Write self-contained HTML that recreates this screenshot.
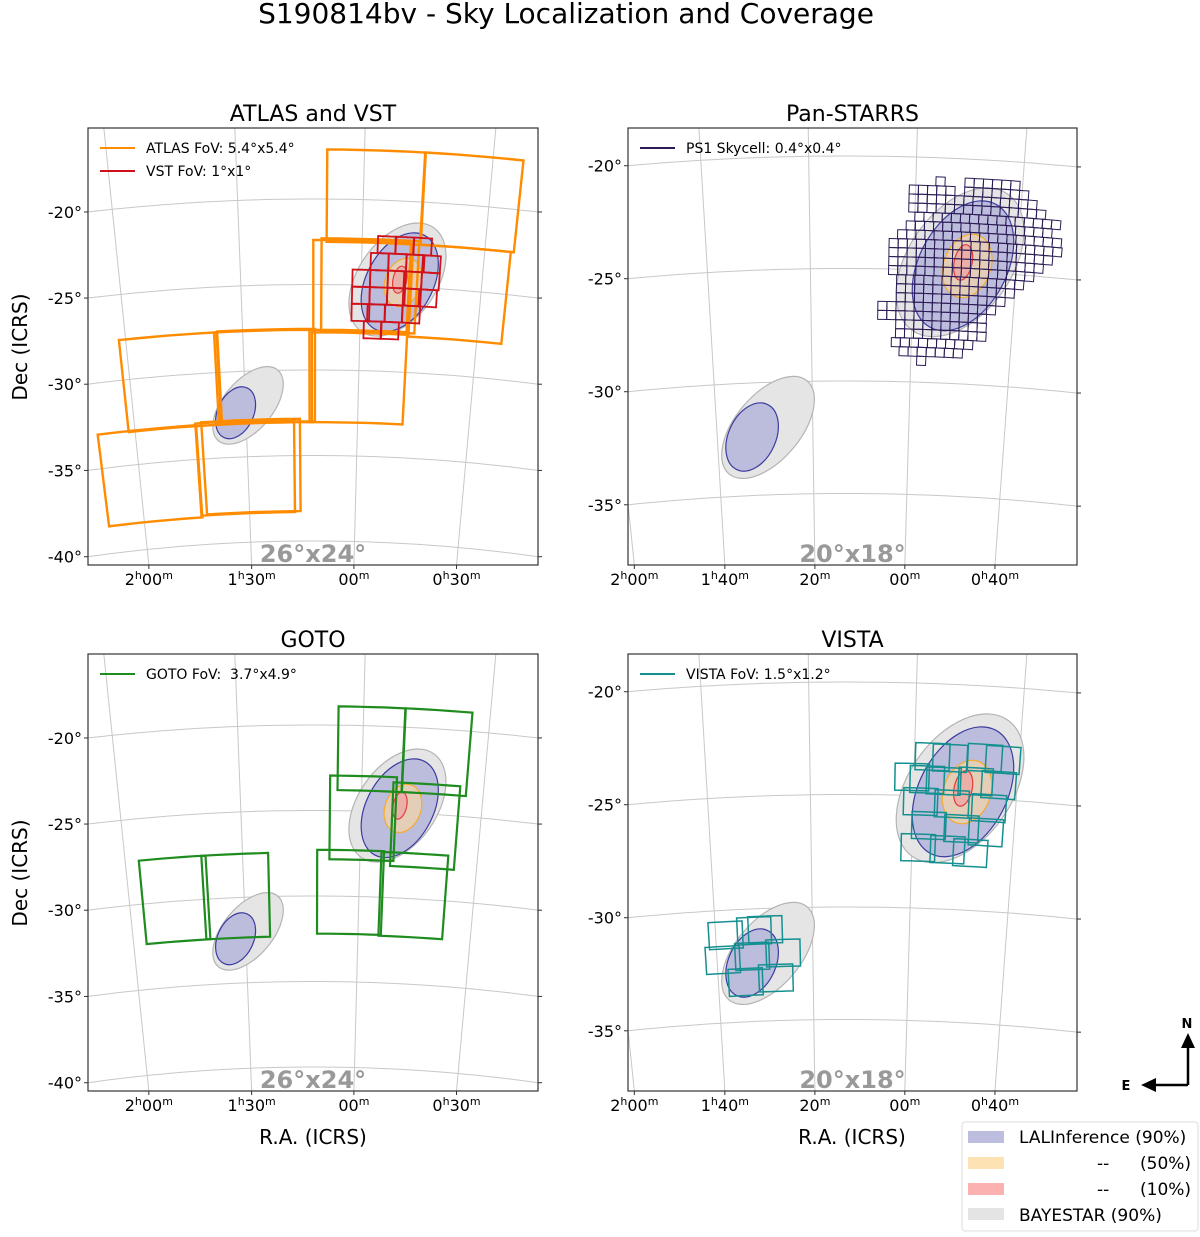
<!DOCTYPE html>
<html><head><meta charset="utf-8"><style>
html,body{margin:0;padding:0;background:#fff;width:1200px;height:1237px;overflow:hidden;}
svg{display:block;font-family:"DejaVu Sans","Liberation Sans",sans-serif;}
</style></head><body>
<svg id="fig" width="1200" height="1237" viewBox="0 0 1200 1237" xmlns="http://www.w3.org/2000/svg">
<text x="566" y="23" font-size="28" text-anchor="middle">S190814bv - Sky Localization and Coverage</text>
<text transform="translate(27,347) rotate(-90)" font-size="20" text-anchor="middle">Dec (ICRS)</text>
<text transform="translate(27,873) rotate(-90)" font-size="20" text-anchor="middle">Dec (ICRS)</text>
<text x="313" y="1144" font-size="20" text-anchor="middle">R.A. (ICRS)</text>
<text x="852" y="1144" font-size="20" text-anchor="middle">R.A. (ICRS)</text>
<g>
<line x1="1188" y1="1085" x2="1188" y2="1046" stroke="#000" stroke-width="2.5"/>
<polygon points="1188,1033 1181,1048 1195,1048" fill="#000"/>
<line x1="1188" y1="1085" x2="1154" y2="1085" stroke="#000" stroke-width="2.5"/>
<polygon points="1141,1085 1156,1078 1156,1092" fill="#000"/>
<text x="1187" y="1028" font-size="13" font-weight="bold" text-anchor="middle">N</text>
<text x="1126" y="1090" font-size="13" font-weight="bold" text-anchor="middle">E</text>
</g>
<g>
<rect x="962" y="1122" width="236" height="109" rx="3" fill="#fff" stroke="#ddd"/>
<rect x="968" y="1131" width="36" height="12" fill="#bdbde0"/>
<text x="1019" y="1143" font-size="17">LALInference (90%)</text>
<rect x="968" y="1157" width="36" height="12" fill="#fde3b4"/>
<text x="1097" y="1169" font-size="17">--</text>
<text x="1140" y="1169" font-size="17">(50%)</text>
<rect x="968" y="1183" width="36" height="12" fill="#fcb1b1"/>
<text x="1097" y="1195" font-size="17">--</text>
<text x="1140" y="1195" font-size="17">(10%)</text>
<rect x="968" y="1208" width="36" height="12" fill="#e4e4e4"/>
<text x="1019" y="1221" font-size="17">BAYESTAR (90%)</text>
</g>
</svg>
<script>
// ---- data (RA, Dec in degrees) ----
const blobNames = ['bayestar-main','lalinference-main','lal-50','lal-10','bayestar-second','lalinference-second'];
const blobCenters = [[12.75,-24.6],[12.6,-24.75],[12.4,-24.75],[12.6,-24.6],[22.33,-32.0],[23.18,-32.4]];
const blobAxes = [[3.7,2.3],[3.1,1.95],[1.45,1.05],[0.8,0.4],[2.7,1.45],[1.6,1.05]];
const blobAngles = [55,62,70,78,50,65];
const blobFills = ['#e5e5e5','#bcbcdc','#f7d6a8','#f0a3a0','#e5e5e5','#bcbcdc'];
const blobStrokes = ['#b4b4b4','#3c3ca0','#f2ac2e','#e03c3c','#b4b4b4','#3c3ca0'];

const atlasTiles = [[14.3,-19.8],[8.6,-19.8],[15.0,-25.1],[8.9,-25.2],[14.5,-25.0],[15.1,-30.35],[21.2,-30.35],[21.0,-30.3],[27.3,-30.35],[29.2,-35.7],[22.6,-35.6],[22.2,-35.55]];
const vstTiles = [[13.5,-22.6],[12.4,-22.6],[11.3,-22.6],
 [13.9,-23.6],[12.8,-23.6],[11.7,-23.6],[10.7,-23.6],
 [15.0,-24.6],[13.9,-24.6],[12.8,-24.6],[11.8,-24.6],[10.7,-24.6],
 [15.0,-25.6],[13.9,-25.6],[12.8,-25.6],[11.8,-25.6],[10.8,-25.6],
 [15.0,-26.6],[14.0,-26.6],[12.9,-26.6],[11.8,-26.6],
 [14.2,-27.6],[13.1,-27.6]];
const gotoTiles = [[14.5,-21.35],[10.55,-21.35],[14.9,-25.4],[11.0,-25.7],[15.6,-29.75],[11.5,-29.8],[27.0,-29.9],[23.0,-29.9]];
const vistaTiles = [[14.14,-23.25],[13.3,-23.28],[11.64,-23.19],[10.77,-23.23],[15.09,-24.18],[14.36,-24.27],[13.56,-24.31],[12.02,-24.26],[10.9,-24.36],
 [14.64,-25.26],[13.12,-25.31],[11.3,-25.41],[14.2,-26.31],[12.59,-26.39],[11.38,-26.49],[14.69,-27.31],[13.23,-27.35],[12.09,-27.45],
 [24.48,-31.11],[23.0,-30.97],[22.43,-30.94],[24.7,-32.2],[23.16,-32.1],[21.54,-32.0],[23.56,-33.23],[21.96,-33.1]];
// Pan-STARRS skycell rows: dec, then RA segments [raHigh, raLow]
const ps1RowDecs = [-21.05,-21.45,-21.85,-22.25,-22.65,-23.05,-23.45,-23.85,-24.25,-24.65,-25.05,-25.45,-25.85,-26.25,-26.65,-27.05,-27.45,-27.85,-28.25,-28.65,-29.05];
const ps1RowSegs = [[[14.06,13.6],[12.7,10.0]],[[15.3,13.1],[12.7,9.6]],[[15.3,9.2]],[[15.3,8.8]],[[15.0,7.9]],[[15.4,8.3]],[[15.8,8.0]],[[16.2,8.0]],[[16.2,8.3]],[[16.2,8.7]],[[16.2,9.2]],[[15.8,9.5]],[[15.8,9.9]],[[15.8,10.3]],[[16.7,10.7]],[[16.7,11.15]],[[15.8,11.5]],[[15.8,11.5]],[[16.0,11.9]],[[15.6,12.4]],[[14.7,14.3]]];

const decTicksA = [-20,-25,-30,-35,-40];
const raTicksA = [30,22.5,15,7.5];
const raLabelsA = [['2','00'],['1','30'],[null,'00'],['0','30']];
const decTicksB = [-20,-25,-30,-35];
const raTicksB = [30,25,20,15,10];
const raLabelsB = [['2','00'],['1','40'],[null,'20'],[null,'00'],['0','40']];

// ---- projections ----
const PA = {x0:88,x1:538,px:313,poleOff:2031,r20:1960,s:17.1,rac:18,k:0.49,h:437};
const PB = {x0:628,x1:1077,px:846,poleOff:2477,r20:2449,s:22.5,rac:18.27,k:0.505,h:437};
const NS='http://www.w3.org/2000/svg';
const svg=document.getElementById('fig');
function el(tag,parent){const e=document.createElementNS(NS,tag);parent.appendChild(e);return e;}
function proj(P,top,ra,dec){const r=P.r20+P.s*(dec+20);const t=(P.rac-ra)*P.k*Math.PI/180;return [P.px+r*Math.sin(t), top+P.poleOff-r*Math.cos(t)];}

const panels=[
 {name:'atlas-vst',title:'ATLAS and VST',P:PA,top:128,dec:decTicksA,ra:raTicksA,ral:raLabelsA,wm:'26°x24°'},
 {name:'pan-starrs',title:'Pan-STARRS',P:PB,top:128,dec:decTicksB,ra:raTicksB,ral:raLabelsB,wm:'20°x18°'},
 {name:'goto',title:'GOTO',P:PA,top:654,dec:decTicksA,ra:raTicksA,ral:raLabelsA,wm:'26°x24°'},
 {name:'vista',title:'VISTA',P:PB,top:654,dec:decTicksB,ra:raTicksB,ral:raLabelsB,wm:'20°x18°'}];

function tile(g,p,ra,dec,w,h,color,sw,name){
 const cw=w/2/Math.cos(dec*Math.PI/180), hh=h/2, pts=[];
 const N=6;
 for(let i=0;i<=N;i++)pts.push(proj(p.P,p.top,ra+cw-2*cw*i/N,dec+hh));
 for(let i=0;i<=N;i++)pts.push(proj(p.P,p.top,ra-cw+2*cw*i/N,dec-hh));
 const e=el('polygon',g);
 
 
 e.setAttribute('points',pts.map(q=>q[0].toFixed(1)+','+q[1].toFixed(1)).join(' '));
 e.setAttribute('fill','none');e.setAttribute('stroke',color);e.setAttribute('stroke-width',sw);
}

panels.forEach((p,pi)=>{
 const P=p.P, top=p.top, bot=top+P.h;
 const g=el('g',svg);
 
 
 const cp=el('clipPath',g);cp.setAttribute('id','clip'+pi);
 const cr=el('rect',cp);cr.setAttribute('x',P.x0);cr.setAttribute('y',top);cr.setAttribute('width',P.x1-P.x0);cr.setAttribute('height',P.h);
 const inner=el('g',g);inner.setAttribute('clip-path','url(#clip'+pi+')');
 
 
 const poleY=top+P.poleOff;
 for(let d=-15;d>=-45;d-=5){
  const pts=[];for(let ra=0;ra<=40;ra+=0.5)pts.push(proj(P,top,ra,d));
  const l=el('polyline',inner);
  
  
  l.setAttribute('points',pts.map(q=>q[0].toFixed(1)+','+q[1].toFixed(1)).join(' '));
  l.setAttribute('fill','none');l.setAttribute('stroke','#c8c8c8');l.setAttribute('stroke-width','1');
 }
 const step=p.ra[0]-p.ra[1];
 for(let ra=p.ra[0]+step;ra>=p.ra[p.ra.length-1]-step;ra-=step){
  const a=proj(P,top,ra,-5),b=proj(P,top,ra,-50);
  const l=el('line',inner);
  
  
  l.setAttribute('x1',a[0]);l.setAttribute('y1',a[1]);l.setAttribute('x2',b[0]);l.setAttribute('y2',b[1]);
  l.setAttribute('stroke','#c8c8c8');l.setAttribute('stroke-width','1');
 }
 blobNames.forEach((bn,i)=>{
  const c=proj(P,top,blobCenters[i][0],blobCenters[i][1]);
  const e=el('ellipse',inner);
  
  
  e.setAttribute('cx',c[0]);e.setAttribute('cy',c[1]);
  e.setAttribute('rx',blobAxes[i][0]*P.s);e.setAttribute('ry',blobAxes[i][1]*P.s);
  e.setAttribute('transform','rotate('+(-blobAngles[i])+' '+c[0]+' '+c[1]+')');
  e.setAttribute('fill',blobFills[i]);e.setAttribute('stroke',blobStrokes[i]);
  e.setAttribute('stroke-width','1.2');e.setAttribute('fill-opacity',i==2||i==3?0.7:1);
 });
 const tg=el('g',inner);
 
 
 if(pi===0){
  atlasTiles.forEach(t=>tile(tg,p,t[0],t[1],5.4,5.4,'#ff8c00',2.4,'atlas-tile'));
  vstTiles.forEach(t=>tile(tg,p,t[0],t[1],1,1,'#d0101a',1.8,'vst-tile'));
 } else if(pi===1){
  ps1RowDecs.forEach((d,i)=>{
   const cw=0.4/Math.cos(d*Math.PI/180);
   ps1RowSegs[i].forEach(sg=>{
    for(let ra=sg[0]-cw/2;ra>sg[1];ra-=cw) tile(tg,p,ra,d,0.4,0.4,'#2b1a55',1,'ps1-skycell');
   });
  });
 } else if(pi===2){
  gotoTiles.forEach(t=>tile(tg,p,t[0],t[1],3.7,4.9,'#1e8c1e',2.2,'goto-tile'));
 } else {
  vistaTiles.forEach(t=>tile(tg,p,t[0],t[1],1.5,1.2,'#149090',1.5,'vista-tile'));
 }
 const wm=el('text',inner);
 
 
 wm.setAttribute('x',(P.x0+P.x1)/2);wm.setAttribute('y',bot-3);wm.setAttribute('text-anchor','middle');
 wm.setAttribute('font-size','24');wm.setAttribute('font-weight','bold');wm.setAttribute('fill','#999');
 wm.textContent=p.wm;
 const fr=el('rect',g);
 
 
 fr.setAttribute('x',P.x0);fr.setAttribute('y',top);fr.setAttribute('width',P.x1-P.x0);fr.setAttribute('height',P.h);
 fr.setAttribute('fill','none');fr.setAttribute('stroke','#333');fr.setAttribute('stroke-width','1.2');
 const tt=el('text',g);
 
 
 tt.setAttribute('x',(P.x0+P.x1)/2);tt.setAttribute('y',top-7);tt.setAttribute('text-anchor','middle');tt.setAttribute('font-size','22');
 tt.textContent=p.title;
 p.dec.forEach(d=>{
  const r=P.r20+P.s*(d+20);
  [P.x0,P.x1].forEach((xe,side)=>{
   const dx=xe-P.px;const y=poleY-Math.sqrt(r*r-dx*dx);
   if(y<top-1||y>bot+1)return;
   const tk=el('line',g);
   
   
   tk.setAttribute('x1',xe);tk.setAttribute('x2',side?xe+4:xe-4);tk.setAttribute('y1',y);tk.setAttribute('y2',y);tk.setAttribute('stroke','#333');
   if(!side){
    const lb=el('text',g);
    
    
    lb.setAttribute('x',xe-6);lb.setAttribute('y',y+6);lb.setAttribute('text-anchor','end');lb.setAttribute('font-size','16');
    lb.textContent=d+'°';
   }
  });
 });
 p.ra.forEach((ra,i)=>{
  const t=(P.rac-ra)*P.k*Math.PI/180;
  const x=P.px+(poleY-bot)*Math.tan(t);
  const tk=el('line',g);
  
  
  tk.setAttribute('x1',x);tk.setAttribute('x2',x);tk.setAttribute('y1',bot);tk.setAttribute('y2',bot+4);tk.setAttribute('stroke','#333');
  const lb=el('text',g);
  
  
  lb.setAttribute('x',x);lb.setAttribute('y',bot+20);lb.setAttribute('text-anchor','middle');lb.setAttribute('font-size','16');
  const L=p.ral[i];
  let html='';
  if(L[0]!==null)html+=L[0]+'<tspan font-size="11" dy="-6">h</tspan><tspan dy="6">'+L[1]+'</tspan>';
  else html+=L[1];
  html+='<tspan font-size="11" dy="-6">m</tspan>';
  lb.innerHTML=html;
 });
 const items = pi===0?[['ATLAS FoV: 5.4°x5.4°','#ff8c00'],['VST FoV: 1°x1°','#d0101a']]:pi===1?[['PS1 Skycell: 0.4°x0.4°','#2b1a55']]:pi===2?[['GOTO FoV:  3.7°x4.9°','#1e8c1e']]:[['VISTA FoV: 1.5°x1.2°','#149090']];
 items.forEach((it,j)=>{
  const y=top+20+j*23;
  const ln=el('line',g);
  
  
  ln.setAttribute('x1',P.x0+12);ln.setAttribute('x2',P.x0+47);ln.setAttribute('y1',y);ln.setAttribute('y2',y);
  ln.setAttribute('stroke',it[1]);ln.setAttribute('stroke-width','2');
  const tx=el('text',g);
  
  
  tx.setAttribute('x',P.x0+58);tx.setAttribute('y',y+5);tx.setAttribute('font-size','14');
  tx.style.whiteSpace='pre';
  tx.textContent=it[0];
 });
});
</script>
</body></html>
